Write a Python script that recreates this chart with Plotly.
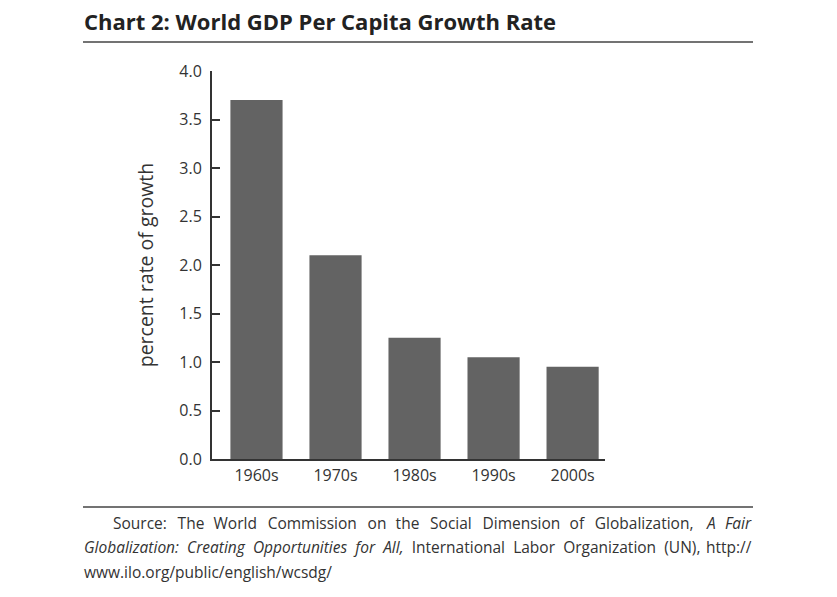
import plotly.graph_objects as go

decades = ["1960s", "1970s", "1980s", "1990s", "2000s"]
growth = [3.7, 2.1, 1.25, 1.05, 0.95]
y_ticks = [0.0, 0.5, 1.0, 1.5, 2.0, 2.5, 3.0, 3.5, 4.0]
y_tick_labels = ["0.0", "0.5", "1.0", "1.5", "2.0", "2.5", "3.0", "3.5", "4.0"]

W, H = 837, 597
L, R, T, B = 212, 605, 71, 459

def px(x):
    return (x - L) / (R - L)

def py(y):
    return (B - y) / (B - T)

fig = go.Figure(go.Bar(x=decades, y=growth, marker=dict(color="#636363", line=dict(width=0)),
                       width=0.66))

font = "Open Sans, Noto Sans, sans-serif"
fig.update_layout(
    width=W, height=H,
    margin=dict(l=L, r=W - R, t=T, b=H - B),
    paper_bgcolor="white", plot_bgcolor="white",
    showlegend=False,
    font=dict(family=font, color="#333333", size=16),
)
fig.update_xaxes(range=[-0.563, 4.41], showline=True, linecolor="#333333", linewidth=2,
                 ticks="", showgrid=False, tickfont=dict(size=16, color="#333333"),
                 ticklabelstandoff=1)
fig.update_yaxes(range=[0, 4.0], tickvals=y_ticks, ticktext=y_tick_labels,
                 showline=True, linecolor="#333333", linewidth=2, ticks="inside",
                 ticklen=8, tickwidth=2, tickcolor="#333333", showgrid=False,
                 zeroline=False, tickfont=dict(size=16, color="#333333"),
                 ticklabelstandoff=5,
                 title=dict(text="percent rate of growth", font=dict(size=19.5, color="#333333"),
                            standoff=20))

# Rules
for yy in (42, 507):
    fig.add_shape(type="line", xref="paper", yref="paper", x0=px(83), x1=px(753),
                  y0=py(yy), y1=py(yy), line=dict(color="#444444", width=1.5))

fig.add_annotation(text="<b>Chart 2: World GDP Per Capita Growth Rate</b>", xref="paper", yref="paper",
                   x=px(82), y=py(38), xanchor="left", yanchor="bottom", showarrow=False,
                   font=dict(size=22, color="#222222", family=font))

src_font = dict(size=15.5, color="#333333", family=font)

def note(text, x, y, anchor="left"):
    fig.add_annotation(text=text, xref="paper", yref="paper", x=px(x), y=py(y),
                       xanchor=anchor, yanchor="middle", showarrow=False, font=src_font,
                       borderpad=0)

def spaced(words, seps):
    out = words[0]
    for i, w in enumerate(words[1:]):
        out += seps[i % len(seps)] + w
    return out

# Justified source text (widened word spacing, last word flush right)
wideA = " \u2004\u200a"
wideB = " \u2004"
mid = " \u2009\u200a"
line1 = "Source: The World Commission on the Social Dimension of Globalization,"
note(spaced(line1.split(" "), [wideA, wideB, wideA]), 112, 523)
note("<i>A" + wideB + "Fair</i>", 753, 523, "right")

line2a = "Globalization: Creating Opportunities for All,"
line2b = "International Labor Organization (UN),"
note("<i>" + mid.join(line2a.split(" ")) + "</i>" + mid + mid.join(line2b.split(" ")), 83, 547)
note("http://", 753, 547, "right")
note("www.ilo.org/public/english/wcsdg/", 83, 572)

fig.write_html("out.html")
